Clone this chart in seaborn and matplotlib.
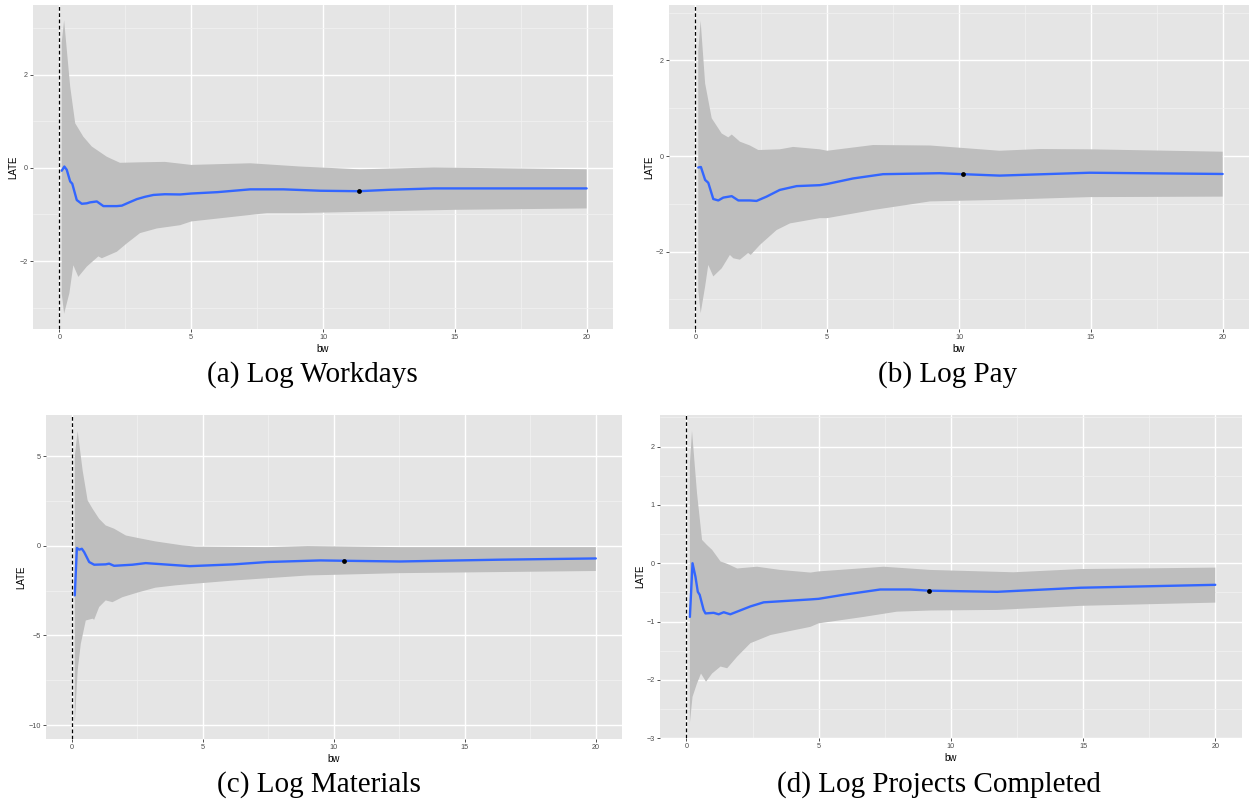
import numpy as np
import matplotlib
matplotlib.use("Agg")
import matplotlib.pyplot as plt
from matplotlib.ticker import MultipleLocator
import seaborn as sns

# ---- (a) Log Workdays -------------------------------------------------------
a_est_bw = [0.09, 0.19, 0.28, 0.41, 0.49, 0.66, 0.85, 1.04, 1.16, 1.42, 1.67, 2.18,
            2.37, 2.65, 2.94, 3.25, 3.57, 4.0, 4.58, 5.0, 6.0, 7.24, 8.5, 9.9, 11.35, 12.5, 14.2, 17.0, 20.0]
a_est = [-0.06, 0.03, -0.04, -0.29, -0.34, -0.69, -0.77, -0.76, -0.74, -0.72, -0.82, -0.82,
         -0.81, -0.74, -0.67, -0.62, -0.58, -0.565, -0.57, -0.55, -0.52, -0.46, -0.46, -0.49, -0.50,
         -0.47, -0.44, -0.44, -0.44]
a_hi_bw = [0.09, 0.18, 0.41, 0.60, 0.91, 1.23, 1.80, 1.99, 2.30, 3.0, 4.0, 5.0, 7.24, 9.14, 11.4, 14.2, 20.0]
a_hi = [2.7, 3.17, 1.75, 0.96, 0.67, 0.46, 0.24, 0.19, 0.11, 0.12, 0.13, 0.065, 0.10, 0.03, -0.03, 0.01, -0.03]
a_lo_bw = [0.09, 0.18, 0.38, 0.53, 0.72, 1.04, 1.48, 1.61, 2.18, 2.56, 3.06, 3.70, 4.58, 5.0,
           6.6, 7.87, 9.14, 14.96, 20.0]
a_lo = [-2.7, -3.13, -2.69, -2.09, -2.34, -2.12, -1.90, -1.94, -1.80, -1.62, -1.40, -1.30, -1.23, -1.15,
        -1.05, -0.97, -0.97, -0.90, -0.87]
a_opt = (11.35, -0.495)

# ---- (b) Log Pay --------------------------------------------------------------
b_est_bw = [0.11, 0.21, 0.37, 0.49, 0.68, 0.87, 1.06, 1.38, 1.63, 2.07, 2.32, 2.70, 3.2, 3.84,
            4.72, 5.0, 5.98, 7.12, 9.27, 10.14, 11.54, 14.95, 20.0]
b_est = [-0.24, -0.23, -0.50, -0.56, -0.90, -0.93, -0.87, -0.84, -0.93, -0.93, -0.94, -0.85, -0.71, -0.63,
         -0.61, -0.585, -0.47, -0.38, -0.36, -0.38, -0.41, -0.35, -0.376]
b_hi_bw = [0.11, 0.20, 0.37, 0.62, 1.0, 1.25, 1.38, 1.69, 2.07, 2.39, 3.2, 3.71, 4.72, 5.0,
           6.74, 8.9, 11.54, 13.06, 14.95, 20.0]
b_hi = [2.2, 2.83, 1.52, 0.79, 0.47, 0.39, 0.45, 0.30, 0.22, 0.125, 0.14, 0.19, 0.14, 0.11,
        0.23, 0.22, 0.11, 0.146, 0.14, 0.09]
b_lo_bw = [0.11, 0.20, 0.37, 0.49, 0.68, 1.0, 1.31, 1.44, 1.69, 2.0, 2.1, 2.45, 3.08, 3.59,
           4.72, 5.0, 6.74, 8.9, 11.4, 14.95, 20.0]
b_lo = [-2.8, -3.29, -2.73, -2.28, -2.52, -2.35, -2.07, -2.14, -2.17, -2.03, -2.07, -1.86, -1.55, -1.41,
        -1.30, -1.30, -1.13, -0.95, -0.92, -0.86, -0.85]
b_opt = (10.14, -0.38)

# ---- (c) Log Materials --------------------------------------------------------
c_est_bw = [0.11, 0.19, 0.28, 0.38, 0.47, 0.66, 0.85, 1.29, 1.42, 1.61, 2.31, 2.82, 3.70, 4.5,
            6.18, 7.45, 9.48, 10.38, 12.52, 16.3, 20.0]
c_est = [-2.77, -0.13, -0.22, -0.17, -0.36, -0.91, -1.06, -1.04, -1.0, -1.12, -1.06, -0.97, -1.06, -1.14,
         -1.04, -0.91, -0.82, -0.84, -0.88, -0.78, -0.71]
c_hi_bw = [0.11, 0.22, 0.41, 0.60, 0.79, 1.04, 1.29, 1.61, 2.06, 2.56, 3.19, 4.21, 4.72, 7.45,
           9.0, 12.52, 20.0]
c_hi = [5.0, 6.39, 4.2, 2.53, 2.06, 1.5, 1.13, 0.95, 0.57, 0.42, 0.24, 0.02, -0.05, -0.08,
        -0.02, -0.08, -0.08]
c_lo_bw = [0.11, 0.22, 0.34, 0.53, 0.79, 0.85, 1.04, 1.29, 1.55, 1.93, 2.56, 3.19, 3.96, 4.5,
           6.18, 9.0, 12.52, 20.0]
c_lo = [-9.93, -6.95, -5.47, -4.17, -4.07, -4.13, -3.42, -3.05, -3.15, -2.87, -2.59, -2.34, -2.21, -2.14,
        -1.94, -1.66, -1.53, -1.41]
c_opt = (10.38, -0.84)

# ---- (d) Log Projects Completed ----------------------------------------------
d_est_bw = [0.13, 0.23, 0.34, 0.43, 0.50, 0.65, 0.72, 1.03, 1.22, 1.41, 1.66, 2.42, 2.92, 4.69,
            5.0, 5.95, 7.33, 8.46, 9.16, 11.75, 14.9, 20.0]
d_est = [-0.92, 0.0, -0.23, -0.49, -0.54, -0.80, -0.86, -0.85, -0.875, -0.84, -0.875, -0.74, -0.67, -0.62,
         -0.61, -0.54, -0.45, -0.45, -0.47, -0.49, -0.42, -0.37]
d_hi_bw = [0.13, 0.21, 0.40, 0.59, 0.78, 0.97, 1.29, 1.54, 1.92, 2.67, 3.55, 4.69, 5.0, 7.46,
           9.22, 12.37, 14.9, 20.0]
d_hi = [1.7, 2.27, 1.2, 0.40, 0.31, 0.23, 0.03, -0.01, -0.09, -0.06, -0.115, -0.16, -0.14, -0.06,
        -0.115, -0.155, -0.1, -0.075]
d_lo_bw = [0.13, 0.23, 0.40, 0.55, 0.74, 0.97, 1.29, 1.54, 1.92, 2.42, 3.18, 4.69, 5.0, 6.70,
           7.96, 9.22, 11.75, 14.9, 20.0]
d_lo = [-2.74, -2.29, -2.06, -1.89, -2.03, -1.89, -1.77, -1.80, -1.60, -1.37, -1.23, -1.09, -1.03, -0.92,
        -0.83, -0.81, -0.80, -0.73, -0.675]
d_opt = (9.16, -0.47)

captions = ["(a) Log Workdays", "(b) Log Pay", "(c) Log Materials", "(d) Log Projects Completed"]

sns.set_theme(style="darkgrid", rc={
    "axes.facecolor": "#E5E5E5",
    "grid.color": "white",
    "figure.facecolor": "white",
})
plt.rcParams["font.family"] = ["Liberation Sans", "DejaVu Sans"]

W, H = 1249, 801
fig = plt.figure(figsize=(W / 100, H / 100), dpi=100)


def px_axes(left, top, right, bottom):
    return fig.add_axes([left / W, 1 - bottom / H, (right - left) / W, (bottom - top) / H])


panels = [
    dict(box=(33, 5, 613, 329), est=(a_est_bw, a_est), hi=(a_hi_bw, a_hi), lo=(a_lo_bw, a_lo),
         opt=a_opt, ylim=(-3.46, 3.5), ymaj=2, ylab_x=-0.0253, cap_xy=(312, 382)),
    dict(box=(669, 5, 1249, 329), est=(b_est_bw, b_est), hi=(b_hi_bw, b_hi), lo=(b_lo_bw, b_lo),
         opt=b_opt, ylim=(-3.62, 3.16), ymaj=2, ylab_x=-0.0253, cap_xy=(948, 382)),
    dict(box=(45.7, 415, 622, 739), est=(c_est_bw, c_est), hi=(c_hi_bw, c_hi), lo=(c_lo_bw, c_lo),
         opt=c_opt, ylim=(-10.78, 7.29), ymaj=5, ylab_x=-0.034, cap_xy=(319, 792)),
    dict(box=(660, 415, 1241.7, 738.3), est=(d_est_bw, d_est), hi=(d_hi_bw, d_hi), lo=(d_lo_bw, d_lo),
         opt=d_opt, ylim=(-3.0, 2.54), ymaj=1, ylab_x=-0.0246, cap_xy=(939, 792)),
]

for p, caption in zip(panels, captions):
    ax = px_axes(*p["box"])
    ax.set_axisbelow(True)

    # confidence band: upper edge left to right, lower edge back
    band_x = list(p["hi"][0]) + list(p["lo"][0])[::-1]
    band_y = list(p["hi"][1]) + list(p["lo"][1])[::-1]
    ax.fill(band_x, band_y, color="#BEBEBE", lw=0, zorder=2)

    sns.lineplot(x=p["est"][0], y=p["est"][1], ax=ax, color="#3366FF", lw=1.7,
                 zorder=3, estimator=None, sort=False)
    ax.axvline(0, color="black", lw=0.9, ls=(0, (3, 2)), zorder=4)
    sns.scatterplot(x=[p["opt"][0]], y=[p["opt"][1]], ax=ax, color="black", s=12,
                    edgecolor="black", linewidth=0, zorder=5)

    ax.set_xlim(-1, 21)
    ax.set_ylim(*p["ylim"])
    ax.xaxis.set_major_locator(MultipleLocator(5))
    ax.xaxis.set_minor_locator(MultipleLocator(2.5))
    ax.yaxis.set_major_locator(MultipleLocator(p["ymaj"]))
    ax.yaxis.set_minor_locator(MultipleLocator(p["ymaj"] / 2))
    ax.grid(which="major", color="white", lw=1.0)
    ax.grid(which="minor", color="#F2F2F2", lw=0.5)
    for s in ax.spines.values():
        s.set_visible(False)
    ax.tick_params(which="major", length=2.5, width=0.6, color="#333333",
                   labelsize=5.2, labelcolor="#4D4D4D", pad=1.2, bottom=True, left=True)
    ax.tick_params(which="minor", length=0)

    ax.set_xlabel("bw", fontsize=7, color="black")
    ax.set_ylabel("LATE", fontsize=7, color="black")
    ax.xaxis.set_label_coords(0.5, -0.046)
    ax.yaxis.set_label_coords(p["ylab_x"], 0.5)

    cx, cy = p["cap_xy"]
    fig.text(cx / W, 1 - cy / H, caption, ha="center", va="baseline",
             fontsize=21, family=["Liberation Serif", "DejaVu Serif"], color="black")

fig.savefig("out.png", dpi=100)
